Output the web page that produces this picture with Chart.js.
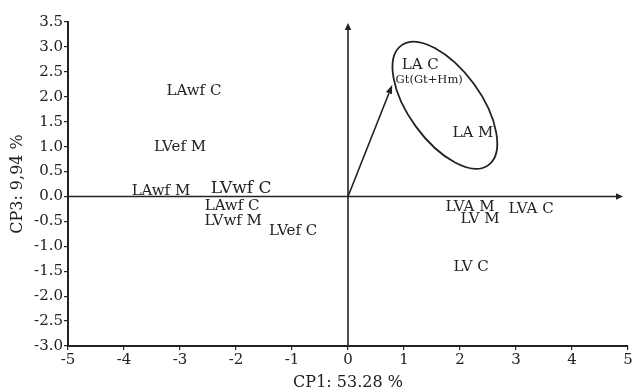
<!DOCTYPE html>
<html><head><meta charset="utf-8">
<script src="https://cdn.jsdelivr.net/npm/chart.js@4.4.1/dist/chart.umd.min.js"></script>
<style>html,body{margin:0;padding:0;background:#fff}#wrap{width:636px;height:389px}</style>
</head><body><div id="wrap"><canvas id="c" width="636" height="389"></canvas></div>
<script>
// ---- data ----
const xTickLabels = ['-5','-4','-3','-2','-1','0','1','2','3','4','5'];
const yTickLabels = ['-3.0','-2.5','-2.0','-1.5','-1.0','-0.5','0.0','0.5','1.0','1.5','2.0','2.5','3.0','3.5'];
const sampleNames = ['LAwf C','LVef M','LAwf M','LVwf C','LAwf C','LVwf M','LVef C','LA C','LA M','LVA M','LV M','LVA C','LV C'];
const cp1 = [-2.75,-3.0,-3.34,-1.91,-2.07,-2.05,-0.98,1.29,2.23,2.18,2.36,3.27,2.2];
const cp3 = [2.11,0.99,0.11,0.15,-0.2,-0.49,-0.69,2.64,1.27,-0.21,-0.45,-0.25,-1.42];
const vectorNames = ['Gt(Gt+Hm)'];
const vectorCp1 = [0.79];
const vectorCp3 = [2.24];
const vectorLabelCp1 = [1.45];
const vectorLabelCp3 = [2.33];
const groupCenterCp1 = [1.73];
const groupCenterCp3 = [1.83];
const xTitle = 'CP1: 53.28 %';
const yTitle = 'CP3: 9,94 %';

// ---- styles ----
const FONT = "'DejaVu Serif', serif";
const INK = '#222';
const bigIdx = [3];

const overlay = {
  id: 'overlay',
  afterDatasetsDraw(chart) {
    const ctx = chart.ctx, xs = chart.scales.x, ys = chart.scales.y;
    const px = v => xs.getPixelForValue(v), py = v => ys.getPixelForValue(v);
    ctx.save();
    ctx.strokeStyle = INK; ctx.fillStyle = INK; ctx.lineWidth = 1.6;
    function arrow(x0, y0, x1, y1, len, w) {
      ctx.beginPath(); ctx.moveTo(x0, y0);
      const ang = Math.atan2(y1 - y0, x1 - x0);
      const bx = x1 - len * Math.cos(ang), by = y1 - len * Math.sin(ang);
      ctx.lineTo(bx, by); ctx.stroke();
      ctx.beginPath(); ctx.moveTo(x1, y1);
      ctx.lineTo(bx + w * Math.sin(ang), by - w * Math.cos(ang));
      ctx.lineTo(bx - w * Math.sin(ang), by + w * Math.cos(ang));
      ctx.closePath(); ctx.fill();
    }
    // zero axes with arrows
    arrow(px(-5), py(0), px(5) - 5, py(0), 7, 3.3);
    arrow(px(0), py(-3), px(0), py(3.5) + 1, 7, 3.3);
    // vector arrow
    for (let i = 0; i < vectorCp1.length; i++) arrow(px(0), py(0), px(vectorCp1[i]), py(vectorCp3[i]), 9, 3.2);
    // group ellipse
    ctx.lineWidth = 1.8;
    for (let i = 0; i < groupCenterCp1.length; i++) {
      ctx.beginPath();
      ctx.ellipse(px(groupCenterCp1[i]), py(groupCenterCp3[i]), 74, 36, 54 * Math.PI / 180, 0, 2 * Math.PI);
      ctx.stroke();
    }
    // labels
    ctx.textAlign = 'center'; ctx.textBaseline = 'middle';
    for (let i = 0; i < sampleNames.length; i++) {
      ctx.font = (bigIdx.includes(i) ? '17px ' : '15px ') + FONT;
      ctx.fillText(sampleNames[i], px(cp1[i]), py(cp3[i]));
    }
    ctx.font = '11.5px ' + FONT;
    for (let i = 0; i < vectorNames.length; i++) ctx.fillText(vectorNames[i], px(vectorLabelCp1[i]), py(vectorLabelCp3[i]));
    ctx.restore();
  }
};

const pts = cp1.map((x, i) => ({x, y: cp3[i]}));
new Chart(document.getElementById('c'), {
  type: 'scatter',
  data: { datasets: [{ data: pts, pointRadius: 0, showLine: false }] },
  options: {
    responsive: false, animation: false,
    layout: { padding: { top: 22, right: 8, left: 0, bottom: 0 } },
    plugins: { legend: { display: false }, tooltip: { enabled: false } },
    scales: {
      x: {
        type: 'linear', min: -5, max: 5,
        border: { display: true, color: INK, width: 2 },
        grid: { display: true, drawOnChartArea: false, drawTicks: true, tickLength: 4, color: INK, lineWidth: 1.2 },
        ticks: { stepSize: 1, color: INK, font: { family: FONT, size: 15 }, padding: 1, maxRotation: 0,
          callback: v => xTickLabels.find(s => parseFloat(s) === v) ?? '' },
        title: { display: true, text: xTitle, color: INK, font: { family: FONT, size: 16 }, padding: { top: 0, bottom: -3 } },
        afterFit: s => { s.height = 43; }
      },
      y: {
        type: 'linear', min: -3, max: 3.5,
        border: { display: true, color: INK, width: 2 },
        grid: { display: true, drawOnChartArea: false, drawTicks: true, tickLength: 4, color: INK, lineWidth: 1.2 },
        ticks: { stepSize: 0.5, color: INK, font: { family: FONT, size: 15 }, padding: 1,
          callback: v => yTickLabels.find(s => Math.abs(parseFloat(s) - v) < 1e-9) ?? '' },
        title: { display: true, text: yTitle, color: INK, font: { family: FONT, size: 16 }, padding: { top: 8, bottom: 0 } },
        afterFit: s => { s.width = 68; }
      }
    }
  },
  plugins: [overlay]
});
</script></body></html>
